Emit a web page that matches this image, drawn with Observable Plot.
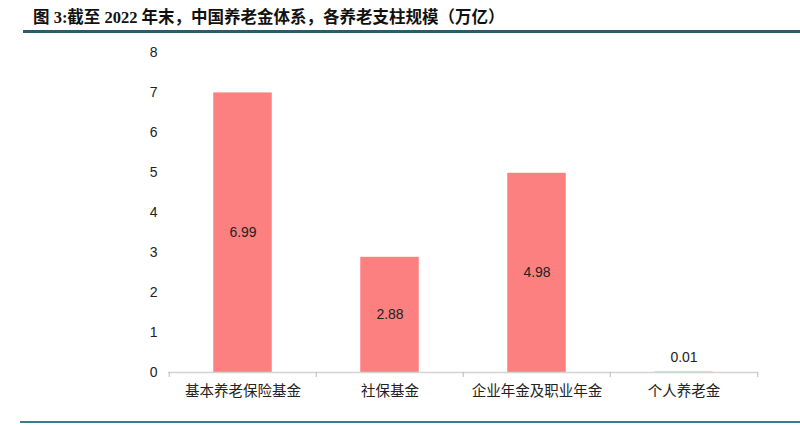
<!DOCTYPE html>
<html><head><meta charset="utf-8">
<script src="https://cdn.jsdelivr.net/npm/d3@7"></script>
<script src="https://cdn.jsdelivr.net/npm/@observablehq/plot@0.6"></script>
<style>
body{margin:0;background:#fff;width:800px;height:425px;overflow:hidden;}
#title{position:absolute;left:33px;top:4px;font:bold 16.5px "Liberation Serif","Noto Sans CJK SC",serif;color:#111;white-space:nowrap;}
#tline{position:absolute;left:23px;top:30px;width:777px;height:3px;background:#2c5b6e;}
#chart{position:absolute;left:0;top:33px;}
#bline{position:absolute;left:20px;top:421px;width:780px;height:2px;background:#3d7a8c;}
</style></head>
<body>
<div id="title">图 3:截至 2022 年末，中国养老金体系，各养老支柱规模（万亿）</div>
<div id="tline"></div>
<div id="chart"></div>
<div id="bline"></div>
<script>
const categories = ["基本养老保险基金", "社保基金", "企业年金及职业年金", "个人养老金"];
const values = [6.99, 2.88, 4.98, 0.01];
const yTicks = [0, 1, 2, 3, 4, 5, 6, 7, 8];

const data = categories.map((c, i) => ({cat: c, value: values[i]}));
const W = 800, H = 388, mL = 168, mR = 42, mT = 19, mB = 49;
const step = (W - mL - mR) / categories.length;
const inset = (step - 59) / 2;
const font = "Liberation Sans, Arial, Noto Sans CJK SC, sans-serif";

const chart = Plot.plot({
  width: W, height: H,
  marginLeft: mL, marginRight: mR, marginTop: mT, marginBottom: mB,
  style: {fontFamily: font, fontSize: "14px", color: "#222", background: "#fff"},
  x: {domain: categories, padding: 0, label: null},
  y: {domain: [0, 8], label: null},
  marks: [
    Plot.axisY({ticks: yTicks, tickSize: 0, tickPadding: 11, tickFormat: d => d, fontSize: 14, fill: "#222"}),
    Plot.axisX({tickSize: 0, tickPadding: 13, fontSize: 14.5, fill: "#222", fontFamily: "Noto Sans CJK SC, sans-serif"}),
    Plot.barY(data, {x: "cat", y: "value", fill: "#fd8080", insetLeft: inset, insetRight: inset}),
    Plot.ruleY([0], {stroke: "#d4d4d4", strokeWidth: 1.5}),
    Plot.ruleX(data, {x: "cat", y1: 0, y2: 0, dx: -step / 2, insetBottom: -5, stroke: "#bbbbbb"}),
    Plot.ruleX(data.slice(-1), {x: "cat", y1: 0, y2: 0, dx: step / 2, insetBottom: -5, stroke: "#bbbbbb"}),
    Plot.text(data.filter(d => d.value >= 0.5), {
      x: "cat", y: d => d.value / 2,
      text: d => d.value.toFixed(2),
      fill: "#222", fontSize: 14
    }),
    Plot.text(data.filter(d => d.value < 0.5), {
      x: "cat", y: "value", dy: -15,
      text: d => d.value.toFixed(2),
      fill: "#222", fontSize: 14
    })
  ]
});
document.getElementById("chart").appendChild(chart);
</script>
</body></html>
